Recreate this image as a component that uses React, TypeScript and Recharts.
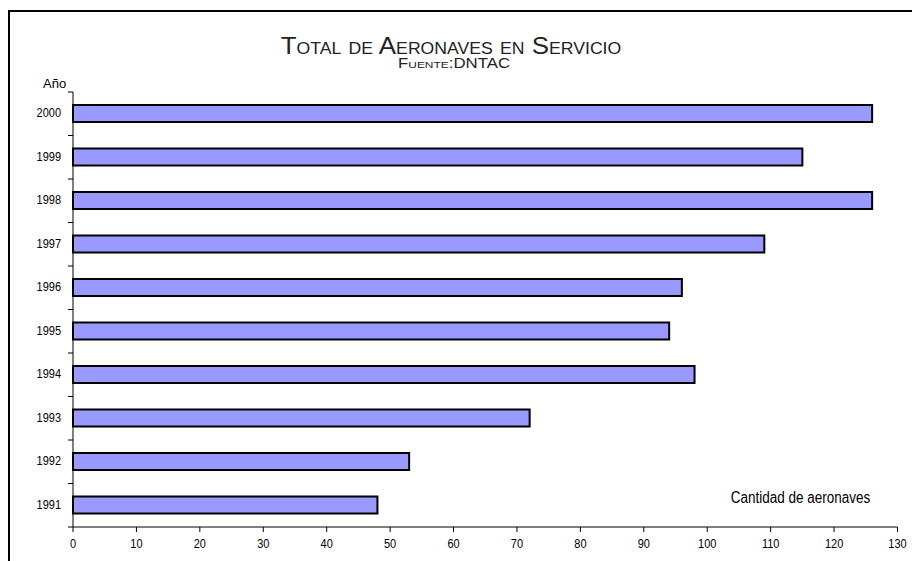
import { BarChart, Bar, XAxis, YAxis } from 'recharts'

const years = ['2000', '1999', '1998', '1997', '1996', '1995', '1994', '1993', '1992', '1991']
const aircraft = [126, 115, 126, 109, 96, 94, 98, 72, 53, 48]
const xTicks = [0, 10, 20, 30, 40, 50, 60, 70, 80, 90, 100, 110, 120, 130]

const data = years.map((year, i) => ({ year, total: aircraft[i] }))

const FONT = '"Liberation Sans", Arial, sans-serif'
const BAND = 43.5

// year label + tick mark on the band edge (Excel style)
function YearTick(props: any) {
  const { x, y, payload, index } = props
  const axisX = x + 12
  return (
    <g>
      <g transform={`translate(${x},${y - 1}) scale(1,1.15)`}>
        <text x={0} y={0} dy="0.36em" textAnchor="end" fontSize={11} fontFamily={FONT} fill="#000">
          {payload.value}
        </text>
      </g>
      <line x1={axisX - 5} x2={axisX} y1={y - BAND / 2} y2={y - BAND / 2} stroke="#000" />
      {index === years.length - 1 && (
        <line x1={axisX - 5} x2={axisX} y1={y + BAND / 2} y2={y + BAND / 2} stroke="#000" />
      )}
    </g>
  )
}

function CountTick(props: any) {
  const { x, y, payload } = props
  return (
    <g transform={`translate(${x},${y + 11}) scale(1,1.15)`}>
      <text x={0} y={0} textAnchor="middle" fontSize={11} fontFamily={FONT} fill="#000">
        {payload.value}
      </text>
    </g>
  )
}

export default function App() {
  return (
    <div style={{ position: 'absolute', left: 8, top: 10, width: 902, height: 549, borderLeft: '2px solid #000', borderTop: '2px solid #000' }}>
      <BarChart
        width={902}
        height={549}
        data={data}
        layout="vertical"
        margin={{ top: 80, right: 14.5, bottom: 14, left: 0 }}
      >
        <XAxis
          type="number"
          domain={[0, 130]}
          ticks={xTicks}
          interval={0}
          height={20}
          tickSize={5}
          tickMargin={5}
          stroke="#000"
          tick={<CountTick />}
        />
        <YAxis
          type="category"
          dataKey="year"
          width={63}
          tickLine={false}
          tickSize={5}
          tickMargin={7}
          stroke="#000"
          tick={<YearTick />}
        />
        <Bar dataKey="total" fill="#9999FF" stroke="#000" strokeWidth={2} barSize={17} isAnimationActive={false} />
      </BarChart>
      <svg width={902} height={549} style={{ position: 'absolute', left: 0, top: 0, pointerEvents: 'none' }}>
        <g transform="translate(441,42.3) scale(1.08,1)">
          <text x={0} y={0} textAnchor="middle" fontSize={24} fontFamily={FONT} fill="#222" style={{ fontVariant: 'small-caps' }}>
            Total de Aeronaves en Servicio
          </text>
        </g>
        <g transform="translate(444,55.7) scale(1.2,1)">
          <text x={0} y={0} textAnchor="middle" fontSize={14} fontFamily={FONT} fill="#222" style={{ fontVariant: 'small-caps' }}>
            Fuente:DNTAC
          </text>
        </g>
        <text x={33} y={76.3} fontSize={13} fontFamily={FONT}>Año</text>
        <g transform="translate(720.7,491.3) scale(1,1.2)">
          <text x={0} y={0} fontSize={13.5} fontFamily={FONT}>Cantidad de aeronaves</text>
        </g>
      </svg>
    </div>
  )
}
